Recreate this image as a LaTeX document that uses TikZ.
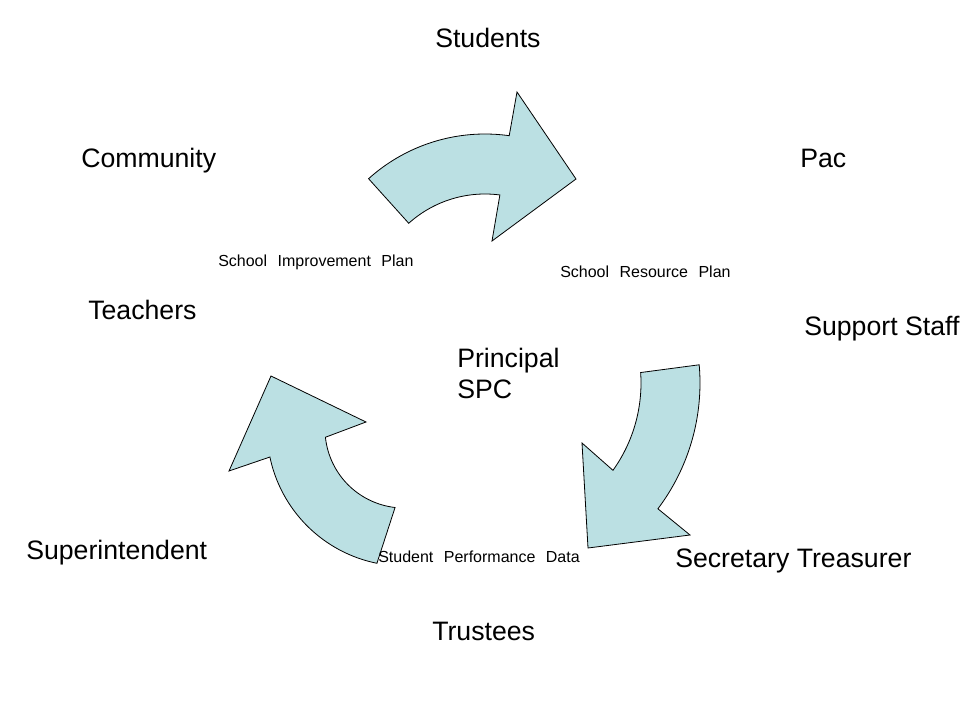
\documentclass[tikz,border=0pt]{standalone}
\usepackage{fontspec}
\setmainfont{Liberation Sans}
\newfontfamily\planfont[WordSpace=2.35]{Liberation Sans}
\definecolor{cyclefill}{RGB}{187,224,227}
\tikzset{
  cyclearrow/.style={fill=cyclefill, draw=black, line width=0.6pt, line join=miter},
  role/.style={font=\fontsize{20}{23.25}\selectfont, anchor=base west, inner sep=0pt, align=left},
  plan/.style={font=\planfont\fontsize{12}{14}\selectfont, anchor=base west, inner sep=0pt}
}

\begin{document}
\begin{tikzpicture}[x=0.75pt, y=-0.75pt]
    \useasboundingbox (0,0) rectangle (960,720);

    % top arrow
    \filldraw[cyclearrow] plot[domain=-132:-82, samples=40] ({485+174*cos(\x)}, {308+174*sin(\x)})
        -- (517,92) -- (576,179) -- (492,241)
        -- plot[domain=-82.5:-132, samples=40] ({485+114*cos(\x)}, {308+114*sin(\x)}) -- cycle;

    % right arrow
    \filldraw[cyclearrow] plot[domain=-5:37, samples=40] ({491+209*cos(\x)}, {383+209*sin(\x)})
        -- (690,535) -- (588,548) -- (582,443)
        -- plot[domain=35.6:-4, samples=40] ({491+150*cos(\x)}, {383+150*sin(\x)}) -- cycle;

    % left arrow
    \filldraw[cyclearrow] plot[domain=101.4:168.2, samples=40] ({404+137*cos(\x)}, {429+137*sin(\x)})
        -- (229,471) -- (271,376) -- (366,422)
        -- plot[domain=174:96.5, samples=40] ({404+79*cos(\x)}, {429+79*sin(\x)}) -- cycle;

    \node[role] (students) at (435,47.5) {Students};
    \node[role] (community) at (81,168) {Community};
    \node[role] (pac) at (800,168) {Pac};
    \node[role] (teachers) at (88,320) {Teachers};
    \node[role] (support) at (804,335) {Support Staff};
    \node[role] (principal) at (457,398) {Principal\\SPC};
    \node[role] (super) at (26,559) {Superintendent};
    \node[role] (secretary) at (675,567) {Secretary Treasurer};
    \node[role] (trustees) at (432,640) {Trustees};

    \node[plan] (improve) at (218,267) {School Improvement Plan};
    \node[plan] (resource) at (560,277) {School Resource Plan};
    \node[plan] (perform) at (378,562) {Student Performance Data};
\end{tikzpicture}
\end{document}
